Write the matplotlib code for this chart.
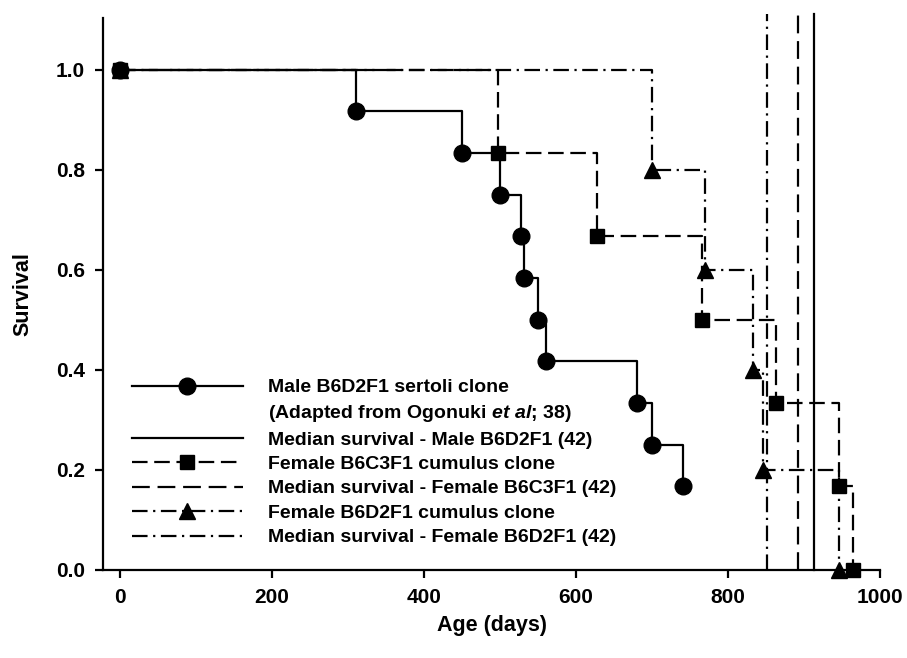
import numpy as np
import matplotlib
matplotlib.use('Agg')
import matplotlib.pyplot as plt
from matplotlib.lines import Line2D

plt.rcParams['font.family'] = ['Liberation Sans', 'DejaVu Sans']
plt.rcParams['font.weight'] = 'bold'
plt.rcParams['mathtext.fontset'] = 'custom'
plt.rcParams['mathtext.rm'] = 'Liberation Sans:bold'
plt.rcParams['mathtext.it'] = 'Liberation Sans:italic:bold'

# Male B6D2F1 sertoli clone (Ogonuki et al)
male_days = [0, 310, 450, 500, 528, 532, 550, 560, 680, 700, 740]
male_surv = [1.0, 0.917, 0.833, 0.75, 0.667, 0.583, 0.5, 0.417, 0.333, 0.25, 0.167]

# Female B6C3F1 cumulus clone
b6c3_days = [0, 497, 628, 766, 863, 945, 964]
b6c3_surv = [1.0, 0.833, 0.667, 0.5, 0.333, 0.167, 0.0]

# Female B6D2F1 cumulus clone
b6d2_days = [0, 700, 769, 833, 846, 945]
b6d2_surv = [1.0, 0.8, 0.6, 0.4, 0.2, 0.0]

# median survival (42)
median_male = 913
median_b6c3 = 892
median_b6d2 = 851

labels = ['Male B6D2F1 sertoli clone',
          r'(Adapted from Ogonuki $\it{et\ al}$; 38)',
          'Median survival - Male B6D2F1 (42)',
          'Female B6C3F1 cumulus clone',
          'Median survival - Female B6C3F1 (42)',
          'Female B6D2F1 cumulus clone',
          'Median survival - Female B6D2F1 (42)']

dash_ls = (0, (7, 3))
long_dash = (0, (8, 3.5))
dashdot_ls = (0, (7, 2.5, 1, 2.5))

fig = plt.figure(figsize=(9.07, 6.58), dpi=100)
ax = fig.add_axes([0.1136, 0.134, 0.857, 0.839])

lw = 1.6
ax.plot(b6d2_days, b6d2_surv, drawstyle='steps-post', color='k', lw=lw, ls=dashdot_ls, clip_on=False)
ax.plot(b6d2_days, b6d2_surv, ls='none', marker='^', ms=12, color='k', clip_on=False)
ax.plot(b6c3_days, b6c3_surv, drawstyle='steps-post', color='k', lw=lw, ls=dash_ls, clip_on=False)
ax.plot(b6c3_days, b6c3_surv, ls='none', marker='s', ms=10.5, color='k', clip_on=False)
ax.plot(male_days, male_surv, drawstyle='steps-post', color='k', lw=lw, clip_on=False)
ax.plot(male_days, male_surv, ls='none', marker='o', ms=12, color='k', clip_on=False)

ax.plot([median_male, median_male], [0, 1.112], color='k', lw=lw, clip_on=False)
ax.plot([median_b6c3, median_b6c3], [0, 1.112], color='k', lw=lw, ls=long_dash, clip_on=False)
ax.plot([median_b6d2, median_b6d2], [0, 1.112], color='k', lw=lw, ls=dashdot_ls, clip_on=False)

ax.set_xlim(-22, 1000)
ax.set_ylim(0, 1.104)
ax.set_xticks([0, 200, 400, 600, 800, 1000])
ax.set_yticks([0.0, 0.2, 0.4, 0.6, 0.8, 1.0])
ax.set_yticklabels(['0.0', '0.2', '0.4', '0.6', '0.8', '1.0'])
ax.spines['top'].set_visible(False)
ax.spines['right'].set_visible(False)
ax.spines['left'].set_linewidth(1.6)
ax.spines['bottom'].set_linewidth(1.6)
ax.tick_params(direction='out', length=6, width=1.6, labelsize=15, pad=7)
ax.set_xlabel('Age (days)', fontsize=15.5, fontweight='bold', labelpad=6)
ax.set_ylabel('Survival', fontsize=15.5, fontweight='bold', labelpad=16)

handles = [
    Line2D([], [], color='k', lw=lw, marker='o', ms=12),
    Line2D([], [], color='none'),
    Line2D([], [], color='k', lw=lw),
    Line2D([], [], color='k', lw=lw, ls=dash_ls, marker='s', ms=10.5),
    Line2D([], [], color='k', lw=lw, ls=long_dash),
    Line2D([], [], color='k', lw=lw, ls=dashdot_ls, marker='^', ms=12),
    Line2D([], [], color='k', lw=lw, ls=dashdot_ls),
]
ax.legend(handles, labels, loc='upper left', bbox_to_anchor=(0.037, 0.346),
          frameon=False, fontsize=14, handlelength=5.7, handletextpad=1.3,
          labelspacing=0.35, borderaxespad=0, borderpad=0)

fig.savefig('out.png', dpi=100)
